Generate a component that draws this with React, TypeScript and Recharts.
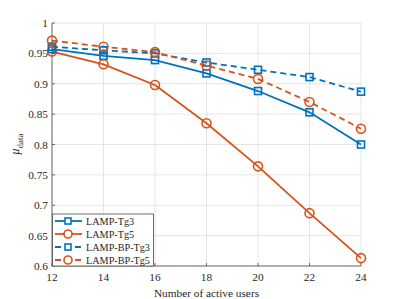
import React from "react";
import { LineChart, Line, XAxis, YAxis, CartesianGrid } from "recharts";

const users = [12, 14, 16, 18, 20, 22, 24];
const lampTg3 = [0.957, 0.946, 0.939, 0.917, 0.888, 0.853, 0.8];
const lampTg5 = [0.953, 0.932, 0.898, 0.835, 0.764, 0.687, 0.613];
const lampBpTg3 = [0.961, 0.955, 0.95, 0.935, 0.923, 0.911, 0.887];
const lampBpTg5 = [0.971, 0.961, 0.952, 0.93, 0.908, 0.87, 0.826];
const xTicks = [12, 14, 16, 18, 20, 22, 24];
const yTicks = [0.6, 0.65, 0.7, 0.75, 0.8, 0.85, 0.9, 0.95, 1];
const seriesNames = ["LAMP-Tg3", "LAMP-Tg5", "LAMP-BP-Tg3", "LAMP-BP-Tg5"];

const BLUE = "#0072BD";
const ORANGE = "#D95319";
const AXIS = "#4d4d4d";
const TEXT = "#262626";
const FONT = "'Liberation Serif', 'Times New Roman', serif";

const data = users.map((u, i) => ({
  u,
  a: lampTg3[i],
  b: lampTg5[i],
  c: lampBpTg3[i],
  d: lampBpTg5[i],
}));

const Square = (color: string) => (props: any) => {
  const { cx, cy, index } = props;
  if (cx == null || cy == null) return <g key={index} />;
  return (
    <rect key={index} x={cx - 3.5} y={cy - 3.5} width={7} height={7} fill="none" stroke={color} strokeWidth={1.6} />
  );
};
const Circle = (color: string) => (props: any) => {
  const { cx, cy, index } = props;
  if (cx == null || cy == null) return <g key={index} />;
  return <circle key={index} cx={cx} cy={cy} r={4.5} fill="none" stroke={color} strokeWidth={1.6} />;
};

const fmt = (v: number) => String(Math.round(v * 100) / 100);

const XTick = (props: any) => {
  const { x, y, payload } = props;
  return (
    <g>
      <line x1={x} y1={y} x2={x} y2={y - 3} stroke={AXIS} strokeWidth={0.8} />
      <text x={x} y={y + 14.5} textAnchor="middle" fontFamily={FONT} fontSize={11.3} fill={TEXT}>
        {payload.value}
      </text>
    </g>
  );
};
const XTopTick = (props: any) => {
  const { x, y } = props;
  return <line x1={x} y1={y} x2={x} y2={y + 3} stroke={AXIS} strokeWidth={0.8} />;
};
const YTick = (props: any) => {
  const { x, y, payload } = props;
  return (
    <g>
      <line x1={x} y1={y} x2={x + 3} y2={y} stroke={AXIS} strokeWidth={0.8} />
      <text x={x - 4} y={y + 4} textAnchor="end" fontFamily={FONT} fontSize={11.3} fill={TEXT}>
        {fmt(payload.value)}
      </text>
    </g>
  );
};
const YRightTick = (props: any) => {
  const { x, y } = props;
  return <line x1={x} y1={y} x2={x - 3} y2={y} stroke={AXIS} strokeWidth={0.8} />;
};

const legendItems = [
  { name: seriesNames[0], color: BLUE, marker: "sq", dash: "" },
  { name: seriesNames[1], color: ORANGE, marker: "ci", dash: "" },
  { name: seriesNames[2], color: BLUE, marker: "sq", dash: "6 4" },
  { name: seriesNames[3], color: ORANGE, marker: "ci", dash: "6 4" },
];

export default function App() {
  return (
    <div style={{ position: "fixed", left: 0, top: 0, width: 399, height: 299, background: "#fff" }}>
      <LineChart width={399} height={299} data={data} margin={{ top: 23, right: 38, bottom: 0, left: 0 }}>
        <CartesianGrid stroke="#dedede" strokeWidth={0.8} xAxisId="bottom" yAxisId="left" />
        <XAxis
          xAxisId="bottom"
          dataKey="u"
          type="number"
          domain={[12, 24]}
          ticks={xTicks}
          height={33}
          tickSize={0}
          tickMargin={0}
          tick={<XTick />}
          stroke={AXIS}
          strokeWidth={0.8}
          label={{ value: "Number of active users", position: "insideBottom", offset: 2, fontFamily: FONT, fontSize: 11.3, fill: TEXT }}
        />
        <XAxis
          xAxisId="top"
          orientation="top"
          dataKey="u"
          type="number"
          domain={[12, 24]}
          ticks={xTicks}
          height={0}
          tickSize={0}
          tickMargin={0}
          tick={<XTopTick />}
          stroke={AXIS}
          strokeWidth={0.8}
        />
        <YAxis
          yAxisId="left"
          type="number"
          domain={[0.6, 1]}
          ticks={yTicks}
          width={52}
          tickSize={0}
          tickMargin={0}
          tick={<YTick />}
          stroke={AXIS}
          strokeWidth={0.8}
          allowDataOverflow
        />
        <YAxis
          yAxisId="right"
          orientation="right"
          type="number"
          domain={[0.6, 1]}
          ticks={yTicks}
          width={0}
          tickSize={0}
          tickMargin={0}
          tick={<YRightTick />}
          stroke={AXIS}
          strokeWidth={0.8}
        />
        <Line xAxisId="bottom" yAxisId="left" dataKey="a" stroke={BLUE} strokeWidth={1.8} dot={Square(BLUE)} isAnimationActive={false} />
        <Line xAxisId="bottom" yAxisId="left" dataKey="b" stroke={ORANGE} strokeWidth={1.8} dot={Circle(ORANGE)} isAnimationActive={false} />
        <Line xAxisId="bottom" yAxisId="left" dataKey="c" stroke={BLUE} strokeWidth={1.8} strokeDasharray="6 4" dot={Square(BLUE)} isAnimationActive={false} />
        <Line xAxisId="bottom" yAxisId="left" dataKey="d" stroke={ORANGE} strokeWidth={1.8} strokeDasharray="6 4" dot={Circle(ORANGE)} isAnimationActive={false} />
      </LineChart>
      <svg width={399} height={299} style={{ position: "absolute", left: 0, top: 0, pointerEvents: "none" }}>
        <text
          transform="translate(18.5,144) rotate(-90)"
          textAnchor="middle"
          fontFamily={FONT}
          fontSize={11.5}
          fill={TEXT}
        >
          <tspan fontStyle="italic">μ</tspan>
          <tspan fontSize={9} dy={4}>data</tspan>
        </text>
        <rect x={52.5} y={214} width={101} height={52} fill="#fff" stroke={AXIS} strokeWidth={0.8} />
        {legendItems.map((it, i) => {
          const cy = 221 + i * 13;
          return (
            <g key={it.name}>
              <line x1={55} y1={cy} x2={82} y2={cy} stroke={it.color} strokeWidth={1.8} strokeDasharray={it.dash || undefined} />
              {it.marker === "sq" ? (
                <rect x={65} y={cy - 3} width={6} height={6} fill="#fff" stroke={it.color} strokeWidth={1.6} />
              ) : (
                <circle cx={68} cy={cy} r={4} fill="#fff" stroke={it.color} strokeWidth={1.6} />
              )}
              <text x={86} y={cy + 3.5} fontFamily={FONT} fontSize={10.2} fill={TEXT}>
                {it.name}
              </text>
            </g>
          );
        })}
      </svg>
    </div>
  );
}
